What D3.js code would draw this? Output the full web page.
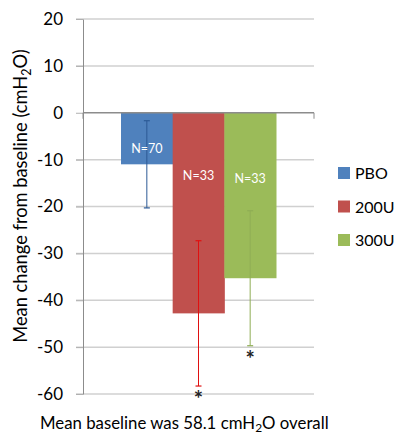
<!DOCTYPE html>
<html>
<head>
<meta charset="utf-8">
<script src="https://cdn.jsdelivr.net/npm/d3@7"></script>
<style>
  body { margin: 0; background: #fff; }
  text { font-family: Lato, "Open Sans", sans-serif; }
</style>
</head>
<body>
<div id="chart"></div>
<script>
// groups and values
const groups = ["PBO", "200U", "300U"];
const means = [-11.0, -42.8, -35.3];
const errs = [9.3, 15.5, 14.4];
const nLabels = ["N=70", "N=33", "N=33"];
const starred = [false, true, true];
const yTicks = [20, 10, 0, -10, -20, -30, -40, -50, -60];

const barColors = ["#4f81bd", "#c0504d", "#9bbb59"];
const errColors = ["#2c5a96", "#e01010", "#8fae55"];

const width = 402, height = 435;
const margin = { top: 19, right: 88, bottom: 41, left: 83 };

const svg = d3.select("#chart").append("svg")
    .attr("width", width)
    .attr("height", height);

const y = d3.scaleLinear()
    .domain([-60, 20])
    .range([height - margin.bottom, margin.top]);

const x = d3.scaleBand()
    .domain(groups)
    .range([121, 276])
    .paddingInner(0);

//gridlines
svg.append("g")
    .selectAll("line")
    .data(yTicks.filter(function(d) { return d !== 0; }))
    .enter().append("line")
    .attr("x1", 76)
    .attr("x2", width - margin.right)
    .attr("y1", function(d) { return y(d); })
    .attr("y2", function(d) { return y(d); })
    .attr("stroke", "#d0d0d0")
    .attr("stroke-width", 1.5);

//y axis, plain hyphen minus like the original
const yAxis = svg.append("g")
    .attr("transform", "translate(" + margin.left + ",0)")
    .call(d3.axisLeft(y).tickValues(yTicks).tickSize(7).tickSizeOuter(0).tickPadding(13)
        .tickFormat(function(d) { return String(d); }));
yAxis.select(".domain").attr("stroke", "#8c8c8c");
yAxis.selectAll(".tick line").attr("stroke", "#b0b0b0");
yAxis.selectAll("text")
    .style("font-size", "17px")
    .attr("fill", "#000");

//bars
svg.selectAll(".bar")
    .data(groups)
    .enter().append("rect")
    .attr("class", "bar")
    .attr("x", function(d) { return x(d); })
    .attr("width", x.bandwidth() + 0.5)
    .attr("y", y(0))
    .attr("height", function(d, i) { return y(means[i]) - y(0); })
    .attr("fill", function(d, i) { return barColors[i]; });

//zero line
svg.append("line")
    .attr("x1", margin.left)
    .attr("x2", width - margin.right)
    .attr("y1", y(0))
    .attr("y2", y(0))
    .attr("stroke", "#8c8c8c")
    .attr("stroke-width", 1.5);
[margin.left, width - margin.right].forEach(function(px) {
    svg.append("line")
        .attr("x1", px).attr("x2", px)
        .attr("y1", y(0)).attr("y2", y(0) + 6)
        .attr("stroke", "#8c8c8c");
});

//error bars
const eb = svg.selectAll(".err")
    .data(groups)
    .enter().append("g")
    .attr("class", "err");
eb.append("line")
    .attr("x1", function(d) { return x(d) + x.bandwidth() / 2; })
    .attr("x2", function(d) { return x(d) + x.bandwidth() / 2; })
    .attr("y1", function(d, i) { return y(means[i] + errs[i]); })
    .attr("y2", function(d, i) { return y(means[i] - errs[i]); })
    .attr("stroke", function(d, i) { return errColors[i]; })
    .attr("stroke-width", 1);
[1, -1].forEach(function(s) {
    eb.append("line")
        .attr("x1", function(d) { return x(d) + x.bandwidth() / 2 - 3; })
        .attr("x2", function(d) { return x(d) + x.bandwidth() / 2 + 3; })
        .attr("y1", function(d, i) { return y(means[i] + s * errs[i]); })
        .attr("y2", function(d, i) { return y(means[i] + s * errs[i]); })
        .attr("stroke", function(d, i) { return errColors[i]; })
        .attr("stroke-width", 1.2);
});

//N labels
svg.selectAll(".nlab")
    .data(groups)
    .enter().append("text")
    .attr("x", function(d) { return x(d) + x.bandwidth() / 2; })
    .attr("y", function(d, i) { return [153, 180, 183][i]; })
    .attr("text-anchor", "middle")
    .attr("fill", "#fff")
    .style("font-size", "12.5px")
    .text(function(d, i) { return nLabels[i]; });

//asterisks
svg.selectAll(".star")
    .data(groups.filter(function(d, i) { return starred[i]; }))
    .enter().append("text")
    .attr("x", function(d) { return x(d) + x.bandwidth() / 2; })
    .attr("y", function(d) {
        const i = groups.indexOf(d);
        return y(means[i] - errs[i]) + 21;
    })
    .attr("text-anchor", "middle")
    .attr("fill", "#222")
    .style("font-size", "22px")
    .style("font-weight", "bold")
    .text("*");

//legend
const legend = svg.append("g")
    .attr("transform", "translate(338,173)");
legend.selectAll("rect")
    .data(groups)
    .enter().append("rect")
    .attr("x", 0)
    .attr("y", function(d, i) { return i * 33.5 - 6; })
    .attr("width", 12)
    .attr("height", 12)
    .attr("fill", function(d, i) { return barColors[i]; });
legend.selectAll("text")
    .data(groups)
    .enter().append("text")
    .attr("x", 17)
    .attr("y", function(d, i) { return i * 33.5 + 6; })
    .style("font-size", "16px")
    .attr("fill", "#000")
    .text(function(d) { return d; });

//y title
const yt = svg.append("text")
    .attr("transform", "translate(27,196) rotate(-90)")
    .attr("text-anchor", "middle")
    .style("font-size", "18.3px")
    .attr("fill", "#000");
yt.append("tspan").text("Mean change from baseline (cmH");
yt.append("tspan").attr("dy", 4).style("font-size", "12.5px").text("2");
yt.append("tspan").attr("dy", -4).text("O)");

//caption
const cap = svg.append("text")
    .attr("x", 40)
    .attr("y", 429)
    .style("font-size", "16.8px")
    .attr("fill", "#000");
cap.append("tspan").text("Mean baseline was 58.1 cmH");
cap.append("tspan").attr("dy", 3).style("font-size", "12px").text("2");
cap.append("tspan").attr("dy", -3).text("O overall");
</script>
</body>
</html>
